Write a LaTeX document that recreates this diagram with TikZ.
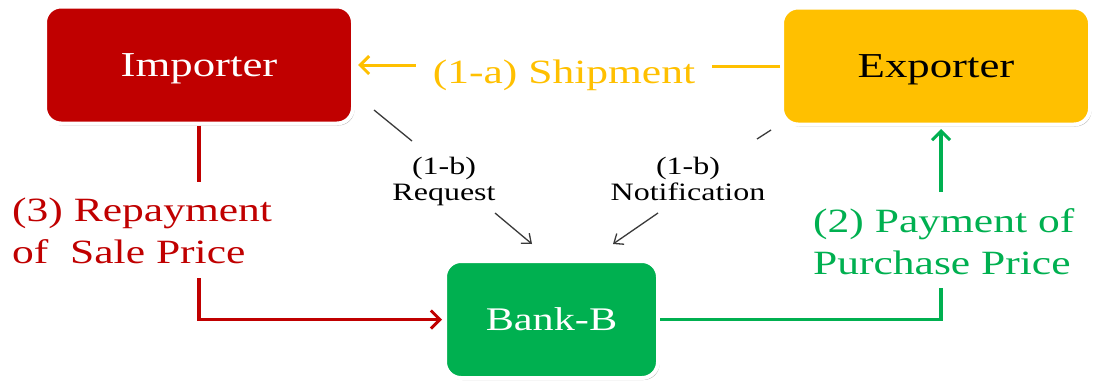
\documentclass[tikz,border=0pt]{standalone}
\usepackage{fontspec}
\setmainfont{Liberation Serif}[FakeStretch=1.28]
\usetikzlibrary{arrows.meta,shadows}
\definecolor{impred}{HTML}{C00000}
\definecolor{expyel}{HTML}{FFC000}
\definecolor{bankgr}{HTML}{00B050}
\definecolor{linegray}{HTML}{3A3A3A}
\begin{document}
\begin{tikzpicture}[x=1pt,y=-1pt,
  box/.style={rounded corners=16pt, draw=white, line width=4pt,
    minimum width=308pt, minimum height=117pt, inner sep=0pt,
    text height=23pt, text depth=0pt,
    drop shadow={shadow xshift=1.5pt, shadow yshift=-2pt, opacity=0.3, fill=black}},
  boxfont/.style={font=\fontsize{35}{40}\selectfont},
  bigfont/.style={font=\fontsize{34}{42}\selectfont},
  smallfont/.style={font=\fontsize{25}{26}\selectfont},
  bigtip/.style={-{Straight Barb[length=9pt,width=18pt,line width=3pt]}},
  smalltip/.style={-{Straight Barb[length=8pt,width=13pt,line width=1.3pt]}},
  orline/.style={draw=expyel, line width=3pt},
  redline/.style={draw=impred, line width=3.5pt},
  grline/.style={draw=bankgr, line width=3.5pt},
  bkline/.style={draw=linegray, line width=1.3pt},
]
\useasboundingbox[fill=white] (0,0) rectangle (1094,381);

% boxes
\node[box, boxfont, fill=impred, text=white] (imp) at (199,65) {Importer};
\node[box, boxfont, fill=expyel, text=black] (exp) at (936,66) {Exporter};
\node[box, font=\fontsize{33}{40}\selectfont, fill=bankgr, text=white,
      text height=22pt, minimum width=213pt] (bank) at (551.5,319.5) {Bank-B};

% labels (base anchor of a multi-line node = baseline of its last line)
\node[bigfont, text=expyel, anchor=base, inner xsep=17pt, inner ysep=0pt] (ship) at (564,83) {(1-a) Shipment};
\node[bigfont, text=impred, align=left, anchor=base west, inner sep=0pt] (rep) at (12,263) {(3) Repayment\\of\ \ Sale Price};
\node[bigfont, text=bankgr, align=left, anchor=base west, inner sep=0pt] (pay) at (813,274) {(2) Payment of\\Purchase Price};
\node[smallfont, align=center, anchor=base, inner sep=0pt] (req) at (444,200) {(1-b)\\Request};
\node[smallfont, align=center, anchor=base, inner sep=0pt] (ntf) at (688,200) {(1-b)\\Notification};

% free ends of the interrupted connectors
\coordinate (r1) at (199,182);
\coordinate (r2) at (199,278);
\coordinate (g1) at (941,192);
\coordinate (g2) at (941,288);
\coordinate (q1) at (374,110);
\coordinate (q2) at (412,141);
\coordinate (q3) at (495,213);
\coordinate (q4) at (532,244);
\coordinate (n1) at (771,130);
\coordinate (n2) at (757,139);
\coordinate (n3) at (658,213);
\coordinate (n4) at (613,244);

% (1-a) shipment
\draw[orline] (exp.west) -- (ship.east |- exp.west);
\draw[orline, bigtip, shorten >=3pt] (ship.west |- imp.east) -- (imp.east);

% (3) repayment
\draw[redline] (imp.south) -- (r1);
\draw[redline, bigtip, shorten >=1pt] (r2) |- (bank.west);

% (2) payment
\draw[grline] (bank.east) -| (g2);
\draw[grline, bigtip, shorten >=2.5pt] (g1) -- (g1 |- exp.south);

% (1-b) request / notification
\draw[bkline] (q1) -- (q2);
\draw[bkline, smalltip] (q3) -- (q4);
\draw[bkline] (n1) -- (n2);
\draw[bkline, smalltip] (n3) -- (n4);
\end{tikzpicture}
\end{document}
